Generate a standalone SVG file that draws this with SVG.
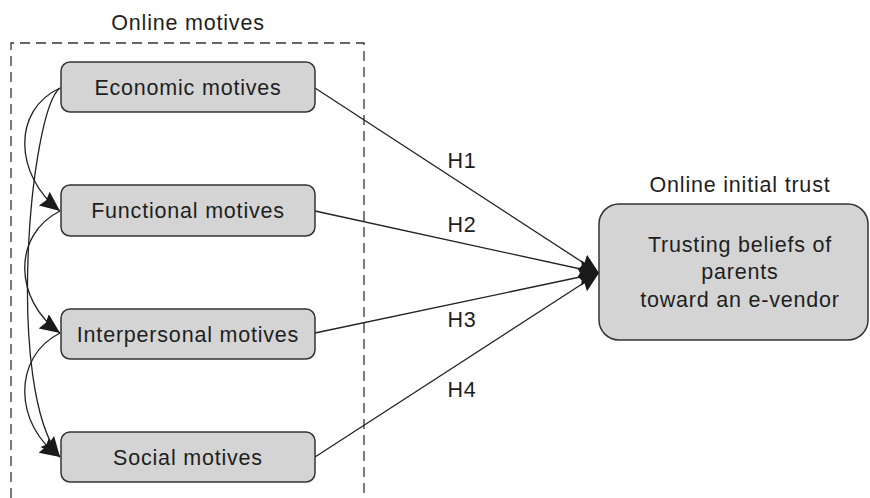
<svg xmlns="http://www.w3.org/2000/svg" width="870" height="498" viewBox="0 0 870 498">
<style>
text{font-family:"Liberation Sans",Arial,sans-serif;font-size:21.5px;letter-spacing:0.8px;fill:#1e1e1e;text-anchor:middle}
.box{fill:#d4d4d4;stroke:#333;stroke-width:1.5}
.ln{fill:none;stroke:#222;stroke-width:1.3}
</style>
<defs>
<marker id="ah" markerUnits="userSpaceOnUse" markerWidth="20" markerHeight="20" viewBox="0 0 16 14" refX="16" refY="7" orient="auto">
<path d="M0,0 L16,7 L0,14 L2,7 Z" fill="#1a1a1a"/>
</marker>
</defs>
<rect width="870" height="498" fill="#fff"/>
<g id="group-online-motives">
<path d="M11,498 V43 H364 V498" fill="none" stroke="#333" stroke-width="1.3" stroke-dasharray="10,6"/>
<text x="188" y="30">Online motives</text>
</g>
<g id="connectors">
<path class="ln" d="M60,88 C12,110 14,175 60,211" marker-end="url(#ah)"/>
<path class="ln" d="M60,88 C30,110 5,390 60,457" marker-end="url(#ah)"/>
<path class="ln" d="M60,211 C12,235 14,300 60,333" marker-end="url(#ah)"/>
<path class="ln" d="M60,333 C12,357 14,425 60,457" marker-end="url(#ah)"/>
<path class="ln" d="M315,88 L599,273" marker-end="url(#ah)"/>
<path class="ln" d="M315,211 L599,273" marker-end="url(#ah)"/>
<path class="ln" d="M315,333 L599,273" marker-end="url(#ah)"/>
<path class="ln" d="M315,457 L599,273" marker-end="url(#ah)"/>
<text x="462" y="168">H1</text>
<text x="462" y="232">H2</text>
<text x="462" y="327">H3</text>
<text x="462" y="397">H4</text>
</g>
<g id="economic">
<rect class="box" x="61" y="62" width="254" height="50" rx="9"/>
<text x="188" y="95">Economic motives</text>
</g>
<g id="functional">
<rect class="box" x="61" y="185" width="254" height="51" rx="9"/>
<text x="188" y="218">Functional motives</text>
</g>
<g id="interpersonal">
<rect class="box" x="61" y="309" width="254" height="50" rx="9"/>
<text x="188" y="342">Interpersonal motives</text>
</g>
<g id="social">
<rect class="box" x="61" y="432" width="254" height="50" rx="9"/>
<text x="188" y="465">Social motives</text>
</g>
<g id="trust">
<text x="740" y="192">Online initial trust</text>
<rect class="box" x="599" y="204" width="269" height="136" rx="20"/>
<text x="740" y="252">Trusting beliefs of</text>
<text x="740" y="279">parents</text>
<text x="740" y="307">toward an e-vendor</text>
</g>
</svg>
